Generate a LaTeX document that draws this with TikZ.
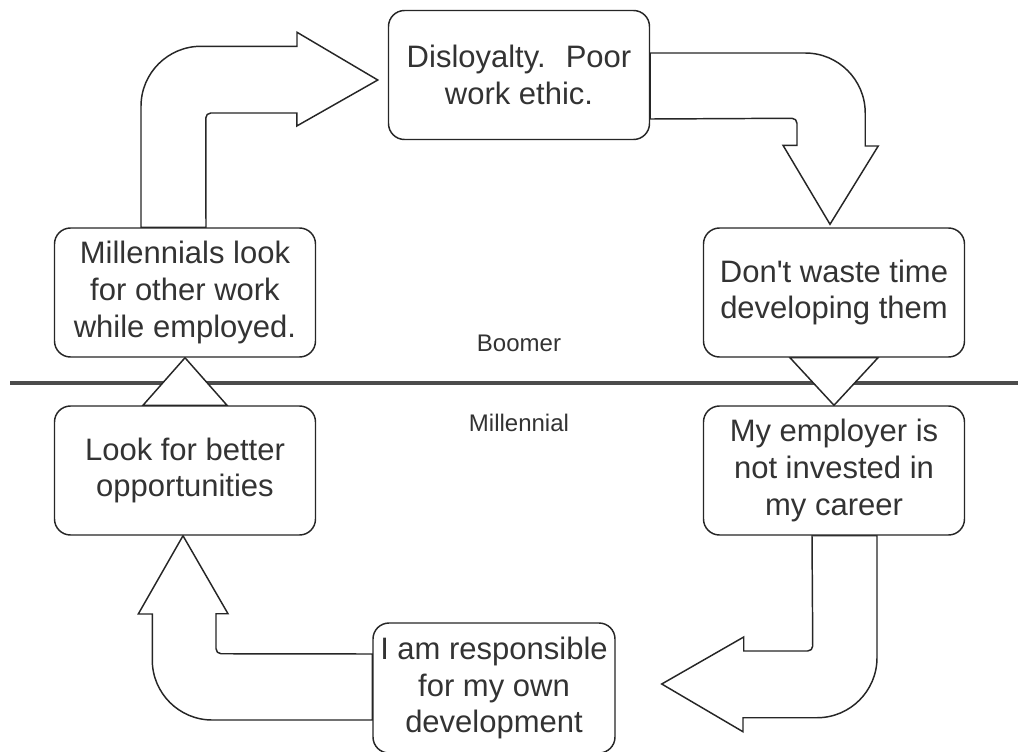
\documentclass[tikz,border=0pt]{standalone}
\usepackage{fontspec}
\setmainfont{Liberation Sans}
\usetikzlibrary{calc}
\pgfdeclarelayer{background}
\pgfsetlayers{background,main}
\tikzset{
    % rounded text boxes
    box/.style={
        rectangle,
        rounded corners=12pt,
        draw=black!85,
        line width=1.1pt,
        fill=white,
        minimum width=195.75pt,
        minimum height=96.75pt,
        inner sep=0pt,
        align=center,
        text=black!80,
        font=\fontsize{23.25}{27.4}\selectfont
    },
    % hollow block arrows
    bigarrow/.style={
        draw=black!85,
        fill=white,
        line width=1.1pt,
        line join=miter
    },
    % Boomer / Millennial labels
    side/.style={font=\fontsize{18}{21}\selectfont, text=black!80},
    divider/.style={draw=black!70, line width=2.6pt}
}

\begin{document}
\begin{tikzpicture}[x=0.75pt, y=-0.75pt]
    \useasboundingbox (0,0) rectangle (1018,751);

    % Boxes
    \node[box] (dis) at (519,75) {Disloyalty.~ Poor\\work ethic.};
    \node[box] (mil) at (185,292.5) {Millennials look\\for other work\\while employed.};
    \node[box] (dont) at (834,292.5) {Don\textquotesingle t waste time\\developing them};
    \node[box] (look) at (185,470.5) {Look for better\\opportunities};
    \node[box] (emp) at (834,470.5) {My employer is\\not invested in\\my career};
    \node[box, minimum width=181.5pt, minimum height=97.5pt] (resp) at (494,688) {I am responsible\\for my own\\development};

    % Labels
    \node[side] (boomer) at (519,343) {Boomer};
    \node[side] (millennial) at (519,423) {Millennial};

    \begin{pgfonlayer}{background}
    % Divider
    \coordinate (divl) at (10,383);
    \coordinate (divr) at (1018,383);
    \draw[divider] (divl) -- (divr);

    % Arrows (clockwise)
    \draw[bigarrow] ($(mil.north)+(-44,0)$) -- ++(0,-121) arc[start angle=180, end angle=270, radius=60] -- ++(96,0) -- ++(0,-14) -- ($(dis.west)+(-10,5)$) -- ++(-81,46) -- ++(0,-13) -- ++(-86,0) arc[start angle=270, end angle=180, radius=5] -- ($(mil.north)+(21,0)$) -- cycle;
    \draw[bigarrow] ($(dis.east)+(0,-22)$) -- ++(155,0) arc[start angle=270, end angle=360, radius=60] -- ++(0,33) -- ++(13,0) -- ($(dont.north)+(-4,-3)$) -- ++(-47,-79) -- ++(14,0) -- ++(0,-22) arc[start angle=0, end angle=-90, radius=5] -- ($(dis.east)+(0,44)$) -- cycle;
    \draw[bigarrow] ($(dont.south)+(-44,0)$) -- ($(dont.south)+(44,0)$) -- (emp.north) -- cycle;
    \draw[bigarrow] ($(emp.south)+(43,0)$) -- ++(0,122) arc[start angle=0, end angle=90, radius=60] -- ++(-74,0) -- ++(0,14) -- ($(resp.east)+(46,-4)$) -- ++(82,-47) -- ++(0,14) -- ++(64,0) arc[start angle=90, end angle=0, radius=5] -- ($(emp.south)+(-22,0)$) -- cycle;
    \draw[bigarrow] ($(resp.west)+(0,32)$) -- ++(-160,0) arc[start angle=90, end angle=180, radius=60] -- ++(0,-46) -- ++(-14,0) -- ($(look.south)+(-2,0)$) -- ++(45,78) -- ++(-12,0) -- ++(0,35) arc[start angle=180, end angle=90, radius=5] -- ($(resp.west)+(0,-34)$) -- cycle;
    \draw[bigarrow] ($(look.north)+(-42,0)$) -- ($(look.north)+(42,0)$) -- (mil.south) -- cycle;
    \end{pgfonlayer}
\end{tikzpicture}
\end{document}
